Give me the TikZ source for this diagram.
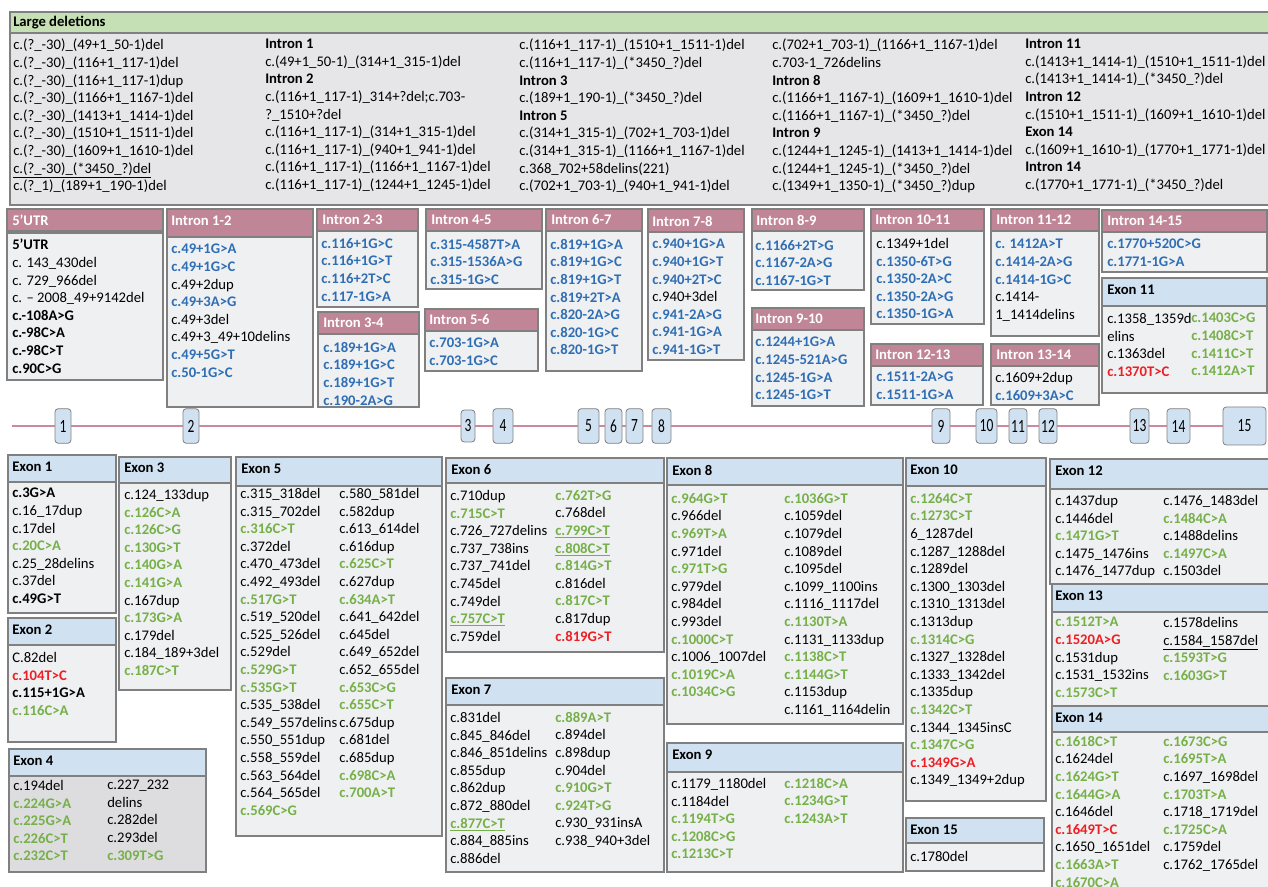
\documentclass[tikz,border=0pt]{standalone}
\usepackage{fontspec}
\setmainfont{Carlito}
\usepackage{tikz}
\usepackage{graphicx}

\definecolor{framegray}{RGB}{128,128,128}
\definecolor{delgreen}{RGB}{197,224,180}
\definecolor{delgray}{RGB}{230,230,232}
\definecolor{intronpink}{RGB}{193,133,152}
\definecolor{exonblue}{RGB}{208,226,242}
\definecolor{bodygray}{RGB}{239,240,242}
\definecolor{exfourgray}{RGB}{221,221,223}
\definecolor{splblue}{RGB}{47,110,180}
\definecolor{misgreen}{RGB}{118,176,72}
\definecolor{hotred}{RGB}{236,32,36}
\definecolor{linepink}{RGB}{204,136,158}

\newcommand{\spl}[1]{\textcolor{splblue}{\textbf{#1}}}
\newcommand{\mis}[1]{\textcolor{misgreen}{\textbf{#1}}}
\newcommand{\hot}[1]{\textcolor{hotred}{\textbf{#1}}}
\newcommand{\exn}[1]{\scalebox{0.72}[1]{\fontsize{14}{14}\selectfont #1}}

\begin{document}
\begin{tikzpicture}[x=0.75pt,y=0.75pt,yscale=-1,xscale=1,
	font=\fontsize{11}{13.2}\selectfont,
	delhead/.style={draw=framegray,fill=delgreen,line width=0.8pt},
	delbody/.style={draw=framegray,fill=delgray,line width=0.8pt},
	inhead/.style={draw=framegray,fill=intronpink,line width=0.8pt},
	exhead/.style={draw=framegray,fill=exonblue,line width=0.8pt},
	varbody/.style={draw=framegray,fill=bodygray,line width=0.8pt},
	headtxt/.style={anchor=west,inner sep=0pt,font=\fontsize{11}{13.2}\selectfont\bfseries},
	inheadtxt/.style={headtxt,text=white},
	vartxt/.style={anchor=north west,inner sep=0pt,align=left,execute at begin node=\strut},
	exnum/.style={draw=framegray,fill=exonblue,rounded corners=2.5pt,line width=0.6pt,inner sep=0pt,minimum height=26pt},
	exline/.style={draw=linepink,line width=1.6pt}]
	\useasboundingbox (0,0) rectangle (1268,887);
	
	%Shape: Rectangle [large deletions]
	\draw [delbody] (10,33) -- (1270,33) -- (1270,205) -- (10,205) -- cycle ;
	\draw [delhead] (10,12) -- (1270,12) -- (1270,33) -- (10,33) -- cycle ;
	% Text Node
	\draw (13,22.5) node (hdel) [headtxt] {Large deletions};
	% Text Node
	\draw (13,39) node (delA) [vartxt] {c.(?\_-30)\_(49+1\_50-1)del\\c.(?\_-30)\_(116+1\_117-1)del\\c.(?\_-30)\_(116+1\_117-1)dup\\c.(?\_-30)\_(1166+1\_1167-1)del\\c.(?\_-30)\_(1413+1\_1414-1)del\\c.(?\_-30)\_(1510+1\_1511-1)del\\c.(?\_-30)\_(1609+1\_1610-1)del\\\underline{c.(?\_-30)\_(*3450\_?)del}\\c.(?\_1)\_(189+1\_190-1)del};
	% Text Node
	\draw (265,39) node (delB) [vartxt] {\textbf{Intron 1}\\c.(49+1\_50-1)\_(314+1\_315-1)del\\\textbf{Intron 2}\\c.(116+1\_117-1)\_314+?del;c.703-\\?\_1510+?del\\c.(116+1\_117-1)\_(314+1\_315-1)del\\c.(116+1\_117-1)\_(940+1\_941-1)del\\c.(116+1\_117-1)\_(1166+1\_1167-1)del\\c.(116+1\_117-1)\_(1244+1\_1245-1)del};
	% Text Node
	\draw (519,39) node (delC) [vartxt] {c.(116+1\_117-1)\_(1510+1\_1511-1)del\\c.(116+1\_117-1)\_(*3450\_?)del\\\textbf{Intron 3}\\c.(189+1\_190-1)\_(*3450\_?)del\\\textbf{Intron 5}\\c.(314+1\_315-1)\_(702+1\_703-1)del\\c.(314+1\_315-1)\_(1166+1\_1167-1)del\\c.368\_702+58delins(221)\\c.(702+1\_703-1)\_(940+1\_941-1)del};
	% Text Node
	\draw (772,39) node (delD) [vartxt] {c.(702+1\_703-1)\_(1166+1\_1167-1)del\\c.703-1\_726delins\\\textbf{Intron 8}\\c.(1166+1\_1167-1)\_(1609+1\_1610-1)del\\c.(1166+1\_1167-1)\_(*3450\_?)del\\\textbf{Intron 9}\\c.(1244+1\_1245-1)\_(1413+1\_1414-1)del\\c.(1244+1\_1245-1)\_(*3450\_?)del\\c.(1349+1\_1350-1)\_(*3450\_?)dup};
	% Text Node
	\draw (1025,39) node (delE) [vartxt] {\textbf{Intron 11}\\c.(1413+1\_1414-1)\_(1510+1\_1511-1)del\\c.(1413+1\_1414-1)\_(*3450\_?)del\\\textbf{Intron 12}\\c.(1510+1\_1511-1)\_(1609+1\_1610-1)del\\\textbf{Exon 14}\\c.(1609+1\_1610-1)\_(1770+1\_1771-1)del\\\textbf{Intron 14}\\c.(1770+1\_1771-1)\_(*3450\_?)del};
	
	%Shape: Rectangle [5'UTR]
	\draw [varbody] (7,233) -- (163,233) -- (163,380) -- (7,380) -- cycle ;
	\draw [inhead] (7,209) -- (163,209) -- (163,231) -- (7,231) -- cycle ;
	\draw (12,220) node (hutr) [inheadtxt] {5’UTR};
	\draw (12,239) node (tutr) [vartxt] {\textbf{5’UTR}\\c. 143\_430del\\c. 729\_966del\\c. – 2008\_49+9142del\\\textbf{c.-108A>G}\\\textbf{c.-98C>A}\\\textbf{c.-98C>T}\\\textbf{c.90C>G}};
	
	%Shape: Rectangle [intron 1-2]
	\draw [varbody] (167,237) -- (313,237) -- (313,407) -- (167,407) -- cycle ;
	\draw [inhead] (167,209) -- (313,209) -- (313,237) -- (167,237) -- cycle ;
	\draw (171,221) node (hin12) [inheadtxt] {Intron 1-2};
	\draw (171,244) node (tin12) [vartxt] {\spl{c.49+1G>A}\\\spl{c.49+1G>C}\\c.49+2dup\\\spl{c.49+3A>G}\\c.49+3del\\c.49+3\_49+10delins\\\spl{c.49+5G>T}\\\spl{c.50-1G>C}};
	
	%Shape: Rectangle [intron 2-3]
	\draw [varbody] (317,231) -- (418,231) -- (418,307) -- (317,307) -- cycle ;
	\draw [inhead] (317,209) -- (418,209) -- (418,231) -- (317,231) -- cycle ;
	\draw (322,220) node (hin23) [inheadtxt] {Intron 2-3};
	\draw (321,238) node (tin23) [vartxt] {\spl{c.116+1G>C}\\\spl{c.116+1G>T}\\\spl{c.116+2T>C}\\\spl{c.117-1G>A}};
	
	%Shape: Rectangle [intron 3-4]
	\draw [varbody] (318,334) -- (419,334) -- (419,407) -- (318,407) -- cycle ;
	\draw [inhead] (318,312) -- (419,312) -- (419,334) -- (318,334) -- cycle ;
	\draw (323,323) node (hin34) [inheadtxt] {Intron 3-4};
	\draw (323,342) node (tin34) [vartxt] {\spl{c.189+1G>A}\\\spl{c.189+1G>C}\\\spl{c.189+1G>T}\\\spl{c.190-2A>G}};
	
	%Shape: Rectangle [intron 4-5]
	\draw [varbody] (426,231) -- (542,231) -- (542,289) -- (426,289) -- cycle ;
	\draw [inhead] (426,209) -- (542,209) -- (542,231) -- (426,231) -- cycle ;
	\draw (431,220) node (hin45) [inheadtxt] {Intron 4-5};
	\draw (430,239) node (tin45) [vartxt] {\spl{c.315-4587T>A}\\\spl{c.315-1536A>G}\\\spl{c.315-1G>C}};
	
	%Shape: Rectangle [intron 5-6]
	\draw [varbody] (425,331) -- (538,331) -- (538,371) -- (425,371) -- cycle ;
	\draw [inhead] (425,309) -- (538,309) -- (538,331) -- (425,331) -- cycle ;
	\draw (429,320) node (hin56) [inheadtxt] {Intron 5-6};
	\draw (429,338) node (tin56) [vartxt] {\spl{c.703-1G>A}\\\spl{c.703-1G>C}};
	
	%Shape: Rectangle [intron 6-7]
	\draw [varbody] (546,231) -- (642,231) -- (642,371) -- (546,371) -- cycle ;
	\draw [inhead] (546,209) -- (642,209) -- (642,231) -- (546,231) -- cycle ;
	\draw (551,220) node (hin67) [inheadtxt] {Intron 6-7};
	\draw (550,239) node (tin67) [vartxt] {\spl{c.819+1G>A}\\\spl{c.819+1G>C}\\\spl{c.819+1G>T}\\\spl{c.819+2T>A}\\\spl{c.820-2A>G}\\\spl{c.820-1G>C}\\\spl{c.820-1G>T}};
	
	%Shape: Rectangle [intron 7-8]
	\draw [varbody] (648,232) -- (744,232) -- (744,360) -- (648,360) -- cycle ;
	\draw [inhead] (648,209) -- (744,209) -- (744,232) -- (648,232) -- cycle ;
	\draw (652,221) node (hin78) [inheadtxt] {Intron 7-8};
	\draw (652,239) node (tin78) [vartxt] {\spl{c.940+1G>A}\\\spl{c.940+1G>T}\\\spl{c.940+2T>C}\\c.940+3del\\\spl{c.941-2A>G}\\\spl{c.941-1G>A}\\\spl{c.941-1G>T}};
	
	%Shape: Rectangle [intron 8-9]
	\draw [varbody] (752,231) -- (864,231) -- (864,290) -- (752,290) -- cycle ;
	\draw [inhead] (752,209) -- (864,209) -- (864,231) -- (752,231) -- cycle ;
	\draw (756,220) node (hin89) [inheadtxt] {Intron 8-9};
	\draw (755,240) node (tin89) [vartxt] {\spl{c.1166+2T>G}\\\spl{c.1167-2A>G}\\\spl{c.1167-1G>T}};
	
	%Shape: Rectangle [intron 9-10]
	\draw [varbody] (752,330) -- (864,330) -- (864,406) -- (752,406) -- cycle ;
	\draw [inhead] (752,308) -- (864,308) -- (864,330) -- (752,330) -- cycle ;
	\draw (755,319) node (hin910) [inheadtxt] {Intron 9-10};
	\draw (755,337) node (tin910) [vartxt] {\spl{c.1244+1G>A}\\\spl{c.1245-521A>G}\\\spl{c.1245-1G>A}\\\spl{c.1245-1G>T}};
	
	%Shape: Rectangle [intron 10-11]
	\draw [varbody] (871,231) -- (984,231) -- (984,324) -- (871,324) -- cycle ;
	\draw [inhead] (871,209) -- (984,209) -- (984,231) -- (871,231) -- cycle ;
	\draw (875,220) node (hin1011) [inheadtxt] {Intron 10-11};
	\draw (876,238) node (tin1011) [vartxt] {c.1349+1del\\\spl{c.1350-6T>G}\\\spl{c.1350-2A>C}\\\spl{c.1350-2A>G}\\\spl{c.1350-1G>A}};
	
	%Shape: Rectangle [intron 11-12]
	\draw [varbody] (991,231) -- (1099,231) -- (1099,336) -- (991,336) -- cycle ;
	\draw [inhead] (991,209) -- (1099,209) -- (1099,231) -- (991,231) -- cycle ;
	\draw (996,220) node (hin1112) [inheadtxt] {Intron 11-12};
	\draw (995,239) node (tin1112) [vartxt] {\spl{c. 1412A>T}\\\spl{c.1414-2A>G}\\\spl{c.1414-1G>C}\\c.1414-\\1\_1414delins};
	
	%Shape: Rectangle [intron 12-13]
	\draw [varbody] (871,366) -- (983,366) -- (983,405) -- (871,405) -- cycle ;
	\draw [inhead] (871,344) -- (983,344) -- (983,366) -- (871,366) -- cycle ;
	\draw (875,355) node (hin1213) [inheadtxt] {Intron 12-13};
	\draw (876,372) node (tin1213) [vartxt] {\spl{c.1511-2A>G}\\\spl{c.1511-1G>A}};
	
	%Shape: Rectangle [intron 13-14]
	\draw [varbody] (991,366) -- (1099,366) -- (1099,405) -- (991,405) -- cycle ;
	\draw [inhead] (991,344) -- (1099,344) -- (1099,366) -- (991,366) -- cycle ;
	\draw (996,355) node (hin1314) [inheadtxt] {Intron 13-14};
	\draw (995,372) node (tin1314) [vartxt] {c.1609+2dup\\\spl{c.1609+3A>C}};
	
	%Shape: Rectangle [intron 14-15]
	\draw [varbody] (1102,232) -- (1267,232) -- (1267,272) -- (1102,272) -- cycle ;
	\draw [inhead] (1102,210) -- (1267,210) -- (1267,232) -- (1102,232) -- cycle ;
	\draw (1107,221) node (hin1415) [inheadtxt] {Intron 14-15};
	\draw (1107,239) node (tin1415) [vartxt] {\spl{c.1770+520C>G}\\\spl{c.1771-1G>A}};
	
	%Shape: Rectangle [exon 11]
	\draw [varbody] (1102,306) -- (1267,306) -- (1267,393) -- (1102,393) -- cycle ;
	\draw [exhead] (1102,278) -- (1267,278) -- (1267,306) -- (1102,306) -- cycle ;
	\draw (1107,290) node (hex11) [headtxt] {Exon 11};
	\draw (1107,313) node (tex11a) [vartxt] {c.1358\_1359d\\elins\\c.1363del\\\hot{c.1370T>C}};
	\draw (1191,313) node (tex11b) [vartxt] {\mis{c.1403C>G}\\\mis{c.1408C>T}\\\mis{c.1411C>T}\\\mis{c.1412A>T}};
	
	% Exon map
	\node (e1) [exnum,minimum width=12pt] at (63,426) {\exn{1}};
	\node (e2) [exnum,minimum width=12pt] at (191,426) {\exn{2}};
	\node (e3) [exnum,minimum width=10.5pt,minimum height=24pt] at (468,426) {\exn{3}};
	\node (e4) [exnum,minimum width=15pt] at (503,426) {\exn{4}};
	\node (e5) [exnum,minimum width=15.75pt] at (588.5,426) {\exn{5}};
	\node (e6) [exnum,minimum width=12.75pt] at (613.5,426) {\exn{6}};
	\node (e7) [exnum,minimum width=12.75pt] at (634.5,426) {\exn{7}};
	\node (e8) [exnum,minimum width=14.25pt] at (661.5,426) {\exn{8}};
	\node (e9) [exnum,minimum width=13.5pt] at (941,426) {\exn{9}};
	\node (e10) [exnum,minimum width=15.75pt] at (986.5,426) {\exn{10}};
	\node (e11) [exnum,minimum width=13.5pt] at (1018,426) {\exn{11}};
	\node (e12) [exnum,minimum width=13.5pt] at (1048,426) {\exn{12}};
	\node (e13) [exnum,minimum width=14.25pt] at (1139.5,426) {\exn{13}};
	\node (e14) [exnum,minimum width=17.25pt] at (1178.5,426) {\exn{14}};
	\node (e15) [exnum,minimum width=32.25pt,minimum height=28.5pt] at (1244.5,426) {\exn{15}};
	\coordinate (lstart) at (12,426);
	%Straight Lines
	\draw [exline] (lstart) -- (e1) -- (e2) -- (e3) -- (e4) -- (e5) -- (e6) -- (e7) -- (e8) -- (e9) -- (e10) -- (e11) -- (e12) -- (e13) -- (e14) -- (e15);
	
	%Shape: Rectangle [exon 1]
	\draw [varbody] (8,482) -- (116,482) -- (116,613) -- (8,613) -- cycle ;
	\draw [exhead] (8,455) -- (116,455) -- (116,482) -- (8,482) -- cycle ;
	\draw (12,467) node (hex1) [headtxt] {Exon 1};
	\draw (12,488) node (tex1) [vartxt] {\textbf{c.3G>A}\\c.16\_17dup\\c.17del\\\mis{c.20C>A}\\c.25\_28delins\\c.37del\\\textbf{c.49G>T}};
	
	%Shape: Rectangle [exon 2]
	\draw [varbody] (8,645) -- (116,645) -- (116,742) -- (8,742) -- cycle ;
	\draw [exhead] (8,618) -- (116,618) -- (116,645) -- (8,645) -- cycle ;
	\draw (12,630) node (hex2) [headtxt] {Exon 2};
	\draw (12,652) node (tex2) [vartxt] {C.82del\\\hot{c.104T>C}\\\textbf{c.115+1G>A}\\\mis{c.116C>A}};
	
	%Shape: Rectangle [exon 3]
	\draw [varbody] (119,483) -- (231,483) -- (231,690) -- (119,690) -- cycle ;
	\draw [exhead] (119,457) -- (231,457) -- (231,483) -- (119,483) -- cycle ;
	\draw (124,468) node (hex3) [headtxt] {Exon 3};
	\draw (124,489) node (tex3) [vartxt] {c.124\_133dup\\\mis{c.126C>A}\\\mis{c.126C>G}\\\mis{c.130G>T}\\\mis{c.140G>A}\\\mis{c.141G>A}\\c.167dup\\\mis{c.173G>A}\\c.179del\\c.184\_189+3del\\\mis{c.187C>T}};
	
	%Shape: Rectangle [exon 4]
	\draw [varbody,fill=exfourgray] (9,776) -- (206,776) -- (206,872) -- (9,872) -- cycle ;
	\draw [exhead] (9,749) -- (206,749) -- (206,776) -- (9,776) -- cycle ;
	\draw (13,761) node (hex4) [headtxt] {Exon 4};
	\draw (13,780) node (tex4a) [vartxt] {c.194del\\\mis{c.224G>A}\\\mis{c.225G>A}\\\mis{c.226C>T}\\\mis{c.232C>T}};
	\draw (107,780) node (tex4b) [vartxt] {c.227\_232\\delins\\c.282del\\c.293del\\\mis{c.309T>G}};
	
	%Shape: Rectangle [exon 5]
	\draw [varbody] (236,486) -- (442,486) -- (442,836) -- (236,836) -- cycle ;
	\draw [exhead] (236,457) -- (442,457) -- (442,486) -- (236,486) -- cycle ;
	\draw (241,469) node (hex5) [headtxt] {Exon 5};
	\draw (240,488) node (tex5a) [vartxt] {c.315\_318del\\c.315\_702del\\\mis{c.316C>T}\\c.372del\\c.470\_473del\\c.492\_493del\\\mis{c.517G>T}\\c.519\_520del\\c.525\_526del\\c.529del\\\mis{c.529G>T}\\\mis{c.535G>T}\\c.535\_538del\\c.549\_557delins\\c.550\_551dup\\c.558\_559del\\c.563\_564del\\c.564\_565del\\\mis{c.569C>G}};
	\draw (339,488) node (tex5b) [vartxt] {c.580\_581del\\c.582dup\\c.613\_614del\\c.616dup\\\mis{c.625C>T}\\c.627dup\\\mis{c.634A>T}\\c.641\_642del\\c.645del\\c.649\_652del\\c.652\_655del\\\mis{c.653C>G}\\\mis{c.655C>T}\\c.675dup\\c.681del\\c.685dup\\\mis{c.698C>A}\\\mis{c.700A>T}};
	
	%Shape: Rectangle [exon 6]
	\draw [varbody] (446,483) -- (664,483) -- (664,652) -- (446,652) -- cycle ;
	\draw [exhead] (446,458) -- (664,458) -- (664,483) -- (446,483) -- cycle ;
	\draw (451,470) node (hex6) [headtxt] {Exon 6};
	\draw (450,490) node (tex6a) [vartxt] {c.710dup\\\mis{c.715C>T}\\c.726\_727delins\\c.737\_738ins\\c.737\_741del\\c.745del\\c.749del\\\mis{\underline{c.757C>T}}\\c.759del};
	\draw (555,490) node (tex6b) [vartxt] {\mis{c.762T>G}\\c.768del\\\mis{\underline{c.799C>T}}\\\mis{\underline{c.808C>T}}\\\mis{c.814G>T}\\c.816del\\\mis{c.817C>T}\\c.817dup\\\hot{c.819G>T}};
	
	%Shape: Rectangle [exon 7]
	\draw [varbody] (446,705) -- (664,705) -- (664,872) -- (446,872) -- cycle ;
	\draw [exhead] (446,678) -- (664,678) -- (664,705) -- (446,705) -- cycle ;
	\draw (451,690) node (hex7) [headtxt] {Exon 7};
	\draw (450,712) node (tex7a) [vartxt] {c.831del\\c.845\_846del\\c.846\_851delins\\c.855dup\\c.862dup\\c.872\_880del\\\mis{\underline{c.877C>T}}\\c.884\_885ins\\c.886del};
	\draw (555,712) node (tex7b) [vartxt] {\mis{c.889A>T}\\c.894del\\c.898dup\\c.904del\\\mis{c.910G>T}\\\mis{c.924T>G}\\c.930\_931insA\\c.938\_940+3del};
	
	%Shape: Rectangle [exon 8]
	\draw [varbody] (667,485) -- (903,485) -- (903,724) -- (667,724) -- cycle ;
	\draw [exhead] (667,458) -- (903,458) -- (903,485) -- (667,485) -- cycle ;
	\draw (672,470) node (hex8) [headtxt] {Exon 8};
	\draw (671,493) node (tex8a) [vartxt] {\mis{c.964G>T}\\c.966del\\\mis{c.969T>A}\\c.971del\\\mis{c.971T>G}\\c.979del\\c.984del\\c.993del\\\mis{c.1000C>T}\\c.1006\_1007del\\\mis{c.1019C>A}\\\mis{c.1034C>G}};
	\draw (784,493) node (tex8b) [vartxt] {\mis{c.1036G>T}\\c.1059del\\c.1079del\\c.1089del\\c.1095del\\c.1099\_1100ins\\c.1116\_1117del\\\mis{c.1130T>A}\\c.1131\_1133dup\\\mis{c.1138C>T}\\\mis{c.1144G>T}\\c.1153dup\\c.1161\_1164delin};
	
	%Shape: Rectangle [exon 9]
	\draw [varbody] (667,772) -- (903,772) -- (903,872) -- (667,872) -- cycle ;
	\draw [exhead] (667,743) -- (903,743) -- (903,772) -- (667,772) -- cycle ;
	\draw (672,755) node (hex9) [headtxt] {Exon 9};
	\draw (671,778) node (tex9a) [vartxt] {c.1179\_1180del\\c.1184del\\\mis{c.1194T>G}\\\mis{c.1208C>G}\\\mis{c.1213C>T}};
	\draw (784,778) node (tex9b) [vartxt] {\mis{c.1218C>A}\\\mis{c.1234G>T}\\\mis{c.1243A>T}};
	
	%Shape: Rectangle [exon 10]
	\draw [varbody] (906,486) -- (1046,486) -- (1046,801) -- (906,801) -- cycle ;
	\draw [exhead] (906,458) -- (1046,458) -- (1046,486) -- (906,486) -- cycle ;
	\draw (910,470) node (hex10) [headtxt] {Exon 10};
	\draw (910,493) node (tex10) [vartxt] {\mis{c.1264C>T}\\\mis{c.1273C>T}\\6\_1287del\\c.1287\_1288del\\c.1289del\\c.1300\_1303del\\c.1310\_1313del\\c.1313dup\\\mis{c.1314C>G}\\c.1327\_1328del\\c.1333\_1342del\\c.1335dup\\\mis{c.1342C>T}\\c.1344\_1345insC\\\mis{c.1347C>G}\\\hot{c.1349G>A}\\c.1349\_1349+2dup};
	
	%Shape: Rectangle [exon 15]
	\draw [varbody] (906,843) -- (1044,843) -- (1044,871) -- (906,871) -- cycle ;
	\draw [exhead] (906,818) -- (1044,818) -- (1044,843) -- (906,843) -- cycle ;
	\draw (910,830) node (hex15) [headtxt] {Exon 15};
	\draw (910,849) node (tex15) [vartxt] {c.1780del};
	
	%Shape: Rectangle [exon 12]
	\draw [varbody] (1050,489) -- (1270,489) -- (1270,584) -- (1050,584) -- cycle ;
	\draw [exhead] (1050,459) -- (1270,459) -- (1270,489) -- (1050,489) -- cycle ;
	\draw (1055,471) node (hex12) [headtxt] {Exon 12};
	\draw (1055,495) node (tex12a) [vartxt] {c.1437dup\\c.1446del\\\mis{c.1471G>T}\\c.1475\_1476ins\\c.1476\_1477dup};
	\draw (1163,495) node (tex12b) [vartxt] {c.1476\_1483del\\\mis{c.1484C>A}\\c.1488delins\\\mis{c.1497C>A}\\c.1503del};
	
	%Shape: Rectangle [exon 13]
	\draw [varbody] (1052,612) -- (1270,612) -- (1270,706) -- (1052,706) -- cycle ;
	\draw [exhead] (1052,584) -- (1270,584) -- (1270,612) -- (1052,612) -- cycle ;
	\draw (1055,596) node (hex13) [headtxt] {Exon 13};
	\draw (1055,617) node (tex13a) [vartxt] {\mis{c.1512T>A}\\\hot{c.1520A>G}\\c.1531dup\\c.1531\_1532ins\\\mis{c.1573C>T}};
	\draw (1163,617) node (tex13b) [vartxt] {c.1578delins\\\underline{c.1584\_1587del}\\\mis{c.1593T>G}\\\mis{c.1603G>T}};
	
	%Shape: Rectangle [exon 14]
	\draw [varbody] (1052,732) -- (1270,732) -- (1270,900) -- (1052,900) -- cycle ;
	\draw [exhead] (1052,706) -- (1270,706) -- (1270,732) -- (1052,732) -- cycle ;
	\draw (1055,718) node (hex14) [headtxt] {Exon 14};
	\draw (1055,736) node (tex14a) [vartxt] {\mis{c.1618C>T}\\c.1624del\\\mis{c.1624G>T}\\\mis{c.1644G>A}\\c.1646del\\\hot{c.1649T>C}\\c.1650\_1651del\\\mis{c.1663A>T}\\\mis{c.1670C>A}};
	\draw (1163,736) node (tex14b) [vartxt] {\mis{c.1673C>G}\\\mis{c.1695T>A}\\c.1697\_1698del\\\mis{c.1703T>A}\\c.1718\_1719del\\\mis{c.1725C>A}\\c.1759del\\c.1762\_1765del};
	
\end{tikzpicture}
\end{document}
